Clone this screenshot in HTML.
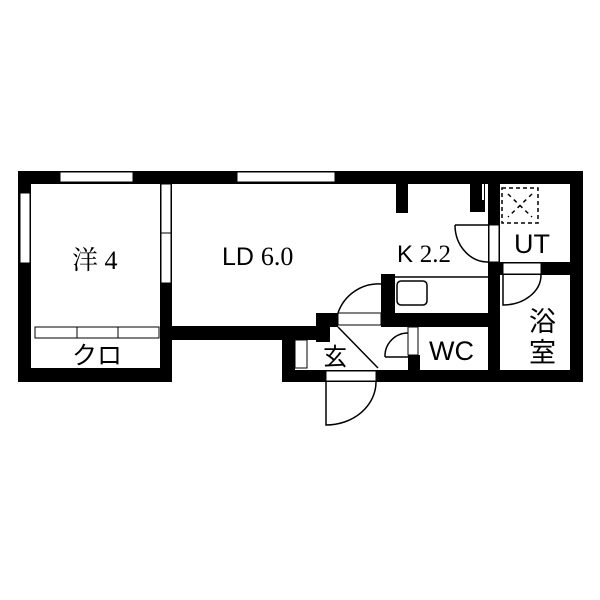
<!DOCTYPE html><html><head><style>body{margin:0;background:#fff}svg{display:block}</style></head><body>
<svg width="600" height="600" viewBox="0 0 600 600" xmlns="http://www.w3.org/2000/svg" font-family="Liberation Sans, Noto Sans CJK JP, sans-serif">
<g fill="#000">
<rect x="18" y="171" width="565" height="13"/>
<rect x="18" y="171" width="13" height="211"/>
<rect x="570" y="171" width="13" height="211"/>
<rect x="18" y="368" width="154" height="14"/>
<rect x="160" y="184" width="12" height="198"/>
<rect x="172" y="326" width="144" height="14"/>
<rect x="282" y="326" width="13" height="56"/>
<rect x="282" y="370" width="301" height="12"/>
<rect x="316" y="313" width="22" height="14"/>
<rect x="316" y="313" width="14" height="29"/>
<rect x="381" y="274" width="14" height="53"/>
<rect x="381" y="313" width="107" height="14"/>
<rect x="396" y="184" width="12" height="29"/>
<rect x="470" y="184" width="15" height="28"/>
<rect x="488" y="184" width="12" height="198"/>
<rect x="500" y="262" width="70" height="13"/>
<rect x="408" y="355" width="12" height="15"/>
</g>
<g fill="#fff" stroke="#000" stroke-width="1">
<rect x="60" y="172" width="73" height="10"/>
<rect x="237" y="172" width="98" height="10"/>
<rect x="20" y="193" width="10" height="70"/>
<rect x="161" y="184" width="10" height="49"/>
<rect x="161" y="233" width="10" height="50"/>
<rect x="489" y="225" width="10" height="37"/>
<rect x="503" y="263" width="38" height="11"/>
<rect x="35" y="327" width="42" height="11"/>
<rect x="77" y="327" width="41" height="11"/>
<rect x="118" y="327" width="41" height="11"/>
<rect x="295" y="340" width="12" height="28"/>
<rect x="408" y="327" width="10" height="28"/>
<rect x="326" y="371" width="50" height="10"/>
<rect x="338" y="313" width="43" height="12"/>
</g>
<rect x="482" y="184" width="2" height="16" fill="#fff"/>
<g fill="none" stroke="#000" stroke-width="1.5">
<rect x="397" y="281" width="30" height="24" rx="4"/>
<line x1="395" y1="277" x2="488" y2="277"/>
<path d="M338 313 A43 43 0 0 1 381 284"/>
<line x1="338" y1="327" x2="378" y2="368"/>
<path d="M385 357 A23 23 0 0 1 408 333"/>
<line x1="385" y1="357" x2="408" y2="357"/>
<path d="M326 382 L326 425 A50 43 0 0 0 376 382"/>
<path d="M455 225 A33 37 0 0 0 488 262"/>
<line x1="455" y1="225" x2="488" y2="225"/>
<path d="M503 275 L503 305 A38 30 0 0 0 541 275"/>
<rect x="502" y="188" width="36" height="35" stroke-dasharray="4,3"/>
<path d="M508 194 L532 217 M532 194 L508 217" stroke-dasharray="4,4"/>
</g>
<g fill="#000">
<text x="72" y="269" font-size="26" font-family="Liberation Serif, Noto Serif CJK SC, serif">洋 4</text>
<text x="222" y="265" font-size="25">LD <tspan font-family="Liberation Serif, serif" font-size="26">6.0</tspan></text>
<text x="397" y="262" font-size="24">K <tspan font-family="Liberation Serif, serif" font-size="25">2.2</tspan></text>
<text x="514" y="253" font-size="27">UT</text>
<text x="72" y="364" font-size="25">クロ</text>
<text x="323" y="365" font-size="24">玄</text>
<text x="429" y="360" font-size="27">WC</text>
<text x="529" y="331" font-size="27">浴</text>
<text x="529" y="362" font-size="27">室</text>
</g>
</svg>
</body></html>
